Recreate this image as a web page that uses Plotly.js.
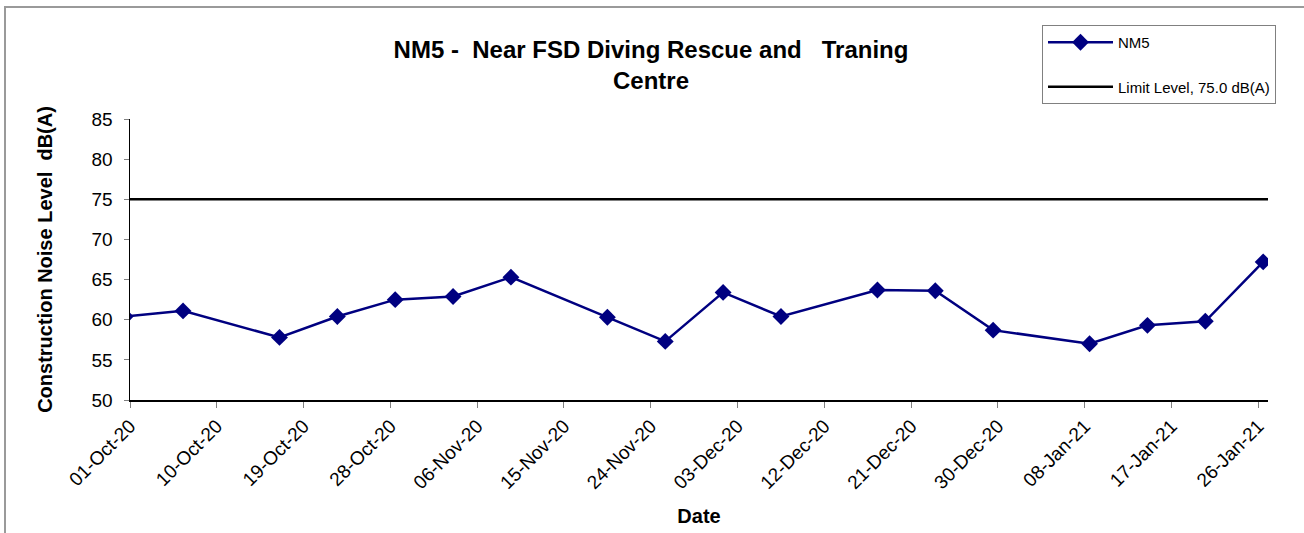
<!DOCTYPE html>
<html>
<head>
<meta charset="utf-8">
<script src="https://cdn.plot.ly/plotly-3.0.1.min.js"></script>
<style>html,body{margin:0;padding:0;background:#fff;}#chart{width:1304px;height:533px;}</style>
</head>
<body>
<div id="chart"></div>
<script>
const dates = ["2020-09-30","2020-10-06","2020-10-16","2020-10-22","2020-10-28","2020-11-03","2020-11-09","2020-11-19","2020-11-25","2020-12-01","2020-12-07","2020-12-17","2020-12-23","2020-12-29","2021-01-08","2021-01-14","2021-01-20","2021-01-26"];
const nm5 = [60.4,61.1,57.8,60.4,62.5,62.9,65.3,60.3,57.3,63.4,60.4,63.7,63.6,58.7,57.0,59.3,59.8,67.2];
const limitLevel = 75.0;
const limitDates = ["2020-10-01","2021-01-27"];
const tickDates = ["2020-10-01","2020-10-10","2020-10-19","2020-10-28","2020-11-06","2020-11-15","2020-11-24","2020-12-03","2020-12-12","2020-12-21","2020-12-30","2021-01-08","2021-01-17","2021-01-26"];
const tickLabels = ["01-Oct-20","10-Oct-20","19-Oct-20","28-Oct-20","06-Nov-20","15-Nov-20","24-Nov-20","03-Dec-20","12-Dec-20","21-Dec-20","30-Dec-20","08-Jan-21","17-Jan-21","26-Jan-21"];

// Excel date axis places each point in the middle of its day slot
const midDay = d => d + " 12:00";

const traces = [
  {
    x: dates.map(midDay), y: nm5, name: "NM5", type: "scatter", mode: "lines+markers",
    line: {color: "#000080", width: 2.5},
    marker: {symbol: "diamond", size: 13, color: "#000080"},
    legendgroup: "a"
  },
  {
    x: limitDates, y: limitDates.map(() => limitLevel), name: "Limit Level, 75.0 dB(A)",
    type: "scatter", mode: "lines", line: {color: "#000000", width: 2.5},
    legendgroup: "b"
  }
];

const W = 1304, H = 533, L = 130, R = 36, T = 119, B = 133;
const pw = W - L - R, ph = H - T - B;

const layout = {
  width: W, height: H,
  paper_bgcolor: "#ffffff", plot_bgcolor: "#ffffff",
  margin: {l: L, r: R, t: T, b: B},
  font: {family: "Liberation Sans, Arial, sans-serif", color: "#000"},
  title: {
    text: "<b>NM5 -  Near FSD Diving Rescue and   Traning<br>Centre</b>",
    font: {size: 24, color: "#000"},
    xref: "container", yref: "container", x: 651/W, xanchor: "center",
    y: 1 - 58/H, yanchor: "top"
  },
  xaxis: {
    type: "date", range: ["2020-10-01", "2021-01-27"],
    tickmode: "array", tickvals: tickDates, ticktext: tickLabels,
    tickangle: -45, tickfont: {size: 19},
    ticks: "outside", ticklen: 6, tickcolor: "#808080",
    showline: true, linecolor: "#000", linewidth: 1.5,
    showgrid: false, zeroline: false,
    title: {text: "<b>Date</b>", font: {size: 20}, standoff: 17}
  },
  yaxis: {
    range: [50, 85], dtick: 5, tick0: 50,
    tickfont: {size: 19}, ticklabelstandoff: 7,
    ticks: "outside", ticklen: 5, tickcolor: "#808080",
    showline: true, linecolor: "#000", linewidth: 1.5,
    showgrid: false, zeroline: false,
    title: {text: "<b>Construction Noise Level  dB(A)</b>", font: {size: 20}, standoff: 33}
  },
  showlegend: true,
  legend: {
    x: (1042 - L)/pw, y: (H - B - 25)/ph, xref: "paper", yref: "paper",
    xanchor: "left", yanchor: "top",
    bordercolor: "#808080", borderwidth: 1, bgcolor: "#fff",
    font: {size: 15}, traceorder: "grouped", tracegroupgap: 22, itemwidth: 65
  },
  shapes: [
    {type: "rect", xref: "paper", yref: "paper",
     x0: (5 - L)/pw, x1: (W + 10 - L)/pw, y0: (H - B - (H + 10))/ph, y1: (H - B - 7)/ph,
     line: {color: "#9a9a9a", width: 2}, layer: "below"}
  ]
};

Plotly.newPlot("chart", traces, layout, {displayModeBar: false, staticPlot: true});
</script>
</body>
</html>
